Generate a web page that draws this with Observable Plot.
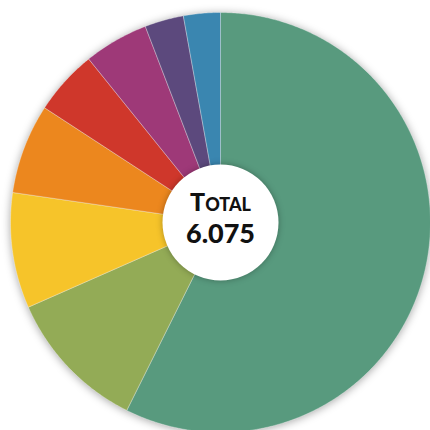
<!DOCTYPE html>
<html>
<head>
<meta charset="utf-8">
<script src="https://cdn.jsdelivr.net/npm/d3@7"></script>
<script src="https://cdn.jsdelivr.net/npm/@observablehq/plot@0.6"></script>
<style>
  html, body { margin: 0; padding: 0; background: #fff; }
  #chart svg { display: block; }
</style>
</head>
<body>
<div id="chart"></div>
<script>
// ---- data ----
const categories = ["A", "B", "C", "D", "E", "F", "G", "H"];
const values     = [3485, 670, 540, 420, 304, 302, 182, 172];
const colors     = ["#589a7e", "#93ab56", "#f6c42a", "#ec871e", "#cf372b", "#9e3978", "#5c497d", "#3a86b0"];
const totalTitle = "Total";

// ---- geometry built from the data ----
const R = 210;
const total = d3.sum(values);
const fmt = d3.formatLocale({decimal: ",", thousands: ".", grouping: [3], currency: ["", "€"]}).format(",");
const totalLabel = fmt(total);

const pieData = d3.pie().sort(null).value(d => d.value)(
  categories.map((c, i) => ({category: c, value: values[i]}))
);
const pts = [];
for (const s of pieData) {
  const c = s.data.category;
  pts.push({category: c, x: 0, y: 0});
  const span = s.endAngle - s.startAngle;
  const n = Math.max(2, Math.ceil(span / (Math.PI / 360)));
  for (let k = 0; k <= n; k++) {
    const a = s.startAngle + span * k / n;
    pts.push({category: c, x: R * Math.sin(a), y: R * Math.cos(a)});
  }
  pts.push({category: c, x: 0, y: 0});
}

const plot = Plot.plot({
  width: 430,
  height: 430,
  margin: 0,
  x: {domain: [-220, 210], range: [0, 430], axis: null},
  y: {domain: [-208, 222], range: [430, 0], axis: null},
  color: {domain: categories, range: colors},
  marks: [
    Plot.line(pts, {x: "x", y: "y", z: "category", fill: "category",
      stroke: "white", strokeOpacity: 0.45, strokeWidth: 0.7, curve: "linear"}),
    Plot.dot([0], {x: () => 0, y: () => 0, r: 58, fill: "white", stroke: null}),
    Plot.text([totalTitle], {x: () => 0, y: () => 0, dy: -19.5, text: d => d,
      fontFamily: "Lato", fontWeight: 900, fontSize: 25, fontVariant: "small-caps",
      fill: "#111"}),
    Plot.text([totalLabel], {x: () => 0, y: () => 0, dy: 12, text: d => d,
      fontFamily: "Lato", fontWeight: 900, fontSize: 27, fill: "#111"})
  ]
});
plot.style.background = "#fff";
const lineG = plot.querySelector('g[aria-label="line"]');
if (lineG) lineG.style.filter = "drop-shadow(0px 1px 4px rgba(0,0,0,0.35))";
const dotG = plot.querySelector('g[aria-label="dot"]');
if (dotG) dotG.style.filter = "drop-shadow(0px 0px 3px rgba(0,0,0,0.3))";
document.getElementById("chart").appendChild(plot);
</script>
</body>
</html>
